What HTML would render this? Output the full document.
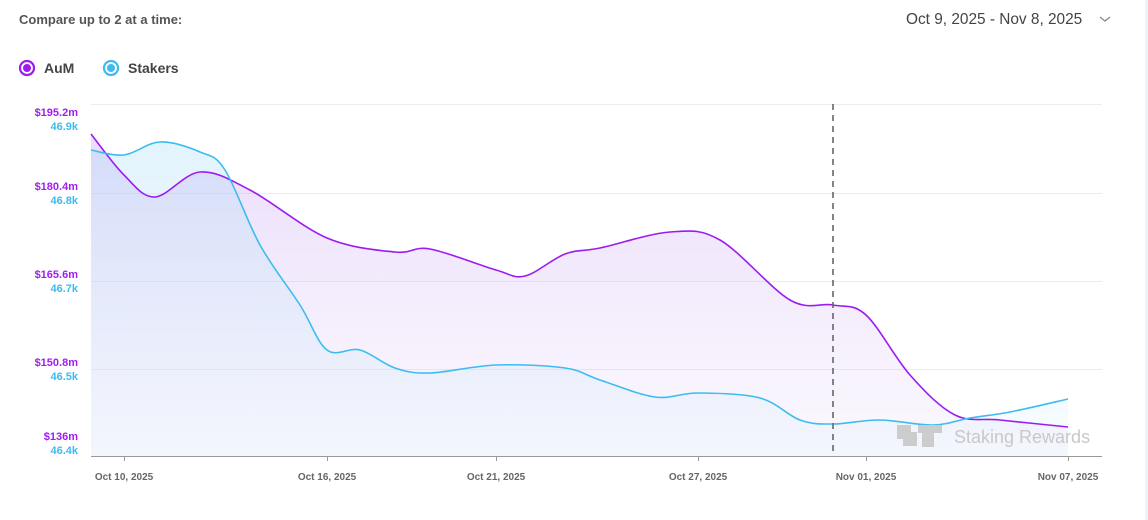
<!DOCTYPE html>
<html><head><meta charset="utf-8"><style>
body{margin:0;width:1148px;height:520px;background:#fff;font-family:"Liberation Sans",sans-serif;overflow:hidden;position:relative}
.t{position:absolute;white-space:nowrap}
</style></head><body>
<div style="position:absolute;left:1145px;top:0;width:3px;height:520px;background:#eef3fa"></div>
<div class="t" style="left:19px;top:12px;font-size:13px;font-weight:bold;color:#555">Compare up to 2 at a time:</div>
<div class="t" style="left:906px;top:11px;font-size:15.4px;color:#444">Oct 9, 2025 - Nov 8, 2025</div>
<svg style="position:absolute;left:1098px;top:14px" width="14" height="10"><path d="M2 3 L7 7 L12 3" stroke="#888" stroke-width="1.3" fill="none"/></svg>
<svg style="position:absolute;left:18px;top:59px" width="18" height="18"><circle cx="9" cy="9" r="7" fill="#fff" stroke="#9b1cf2" stroke-width="2.2"/><circle cx="9" cy="9" r="4" fill="#9b1cf2"/></svg>
<div class="t" style="left:44px;top:60px;font-size:14px;font-weight:bold;color:#444">AuM</div>
<svg style="position:absolute;left:102px;top:59px" width="18" height="18"><circle cx="9" cy="9" r="7" fill="#fff" stroke="#3cbcf0" stroke-width="2.2"/><circle cx="9" cy="9" r="4" fill="#3cbcf0"/></svg>
<div class="t" style="left:128px;top:60px;font-size:14px;font-weight:bold;color:#444">Stakers</div>
<svg id="c" style="position:absolute;left:0;top:0" width="1148" height="520">
<defs>
<linearGradient id="ga" x1="0" y1="0" x2="0" y2="1"><stop offset="0" stop-color="#b98af0" stop-opacity=".3"/><stop offset="1" stop-color="#d9c4f5" stop-opacity=".12"/></linearGradient>
<linearGradient id="gs" x1="0" y1="0" x2="0" y2="1"><stop offset="0" stop-color="#9fd8f5" stop-opacity=".3"/><stop offset="1" stop-color="#d6eefa" stop-opacity=".2"/></linearGradient>
</defs>
<g stroke="#ececf0" stroke-width="1">
<line x1="91" x2="1102" y1="104.5" y2="104.5"/><line x1="91" x2="1102" y1="193.5" y2="193.5"/><line x1="91" x2="1102" y1="281.5" y2="281.5"/><line x1="91" x2="1102" y1="369.5" y2="369.5"/>
</g>
<path id="fa" fill="url(#ga)"/><path id="fs" fill="url(#gs)"/>
<path id="la" fill="none" stroke="#9b1cf2" stroke-width="1.6"/>
<path id="ls" fill="none" stroke="#3cbcf0" stroke-width="1.6"/>
<line x1="833" x2="833" y1="104" y2="456" stroke="#666" stroke-width="1.6" stroke-dasharray="6,5"/>
<g fill="#ccc"><rect x="897" y="425" width="14" height="14"/><rect x="903" y="432" width="14" height="14"/><rect x="918" y="425" width="24" height="8"/><rect x="922" y="425" width="12" height="22"/></g>
<text x="954" y="443" font-size="18" fill="#c8c8c8" font-family="Liberation Sans">Staking Rewards</text>
<line x1="91" x2="1102" y1="456.5" y2="456.5" stroke="#999" stroke-width="1"/>
<g stroke="#999"><line x1="124.5" x2="124.5" y1="456" y2="461"/><line x1="327.5" x2="327.5" y1="456" y2="461"/><line x1="496.5" x2="496.5" y1="456" y2="461"/><line x1="698.5" x2="698.5" y1="456" y2="461"/><line x1="866.5" x2="866.5" y1="456" y2="461"/><line x1="1068.5" x2="1068.5" y1="456" y2="461"/></g>
<g font-size="10" font-weight="bold" fill="#666" text-anchor="middle">
<text x="124" y="480">Oct 10, 2025</text><text x="327" y="480">Oct 16, 2025</text><text x="496" y="480">Oct 21, 2025</text><text x="698" y="480">Oct 27, 2025</text><text x="866" y="480">Nov 01, 2025</text><text x="1068" y="480">Nov 07, 2025</text>
</g>
<g font-size="11" font-weight="bold" text-anchor="end">
<text x="78" y="116" fill="#a21cf2">$195.2m</text><text x="78" y="130" fill="#3cbcf0">46.9k</text>
<text x="78" y="190" fill="#a21cf2">$180.4m</text><text x="78" y="204" fill="#3cbcf0">46.8k</text>
<text x="78" y="278" fill="#a21cf2">$165.6m</text><text x="78" y="292" fill="#3cbcf0">46.7k</text>
<text x="78" y="366" fill="#a21cf2">$150.8m</text><text x="78" y="380" fill="#3cbcf0">46.5k</text>
<text x="78" y="440" fill="#a21cf2">$136m</text><text x="78" y="454" fill="#3cbcf0">46.4k</text>
</g>
</svg>
<script>
function sm(p){let d="M"+p[0][0]+","+p[0][1];for(let i=0;i<p.length-1;i++){const a=p[i-1]||p[i],b=p[i],c=p[i+1],e=p[i+2]||c;const t=6;d+=" C"+(b[0]+(c[0]-a[0])/t)+","+(b[1]+(c[1]-a[1])/t)+" "+(c[0]-(e[0]-b[0])/t)+","+(c[1]-(e[1]-b[1])/t)+" "+c[0]+","+c[1];}return d;}
const A=[[91,134],[124,175],[155,197],[200,172],[250,190],[327,238],[395,252],[430,249],[496,270],[525,276],[565,254],[600,248],[670,232],[720,240],[790,300],[833,305],[866,315],[910,375],[955,415],[1000,420],[1068,427]];
const S=[[91,150],[124,155],[160,142],[200,152],[225,170],[260,245],[300,305],[327,350],[360,350],[395,368],[430,373],[496,365],[565,368],[600,380],[655,397],[698,393],[760,398],[800,420],[833,424],[880,420],[933,425],[970,418],[1010,412],[1068,399]];
const a=sm(A),s=sm(S);
document.getElementById("la").setAttribute("d",a);
document.getElementById("ls").setAttribute("d",s);
document.getElementById("fa").setAttribute("d",a+" L1068,456 L91,456Z");
document.getElementById("fs").setAttribute("d",s+" L1068,456 L91,456Z");
</script>
</body></html>
